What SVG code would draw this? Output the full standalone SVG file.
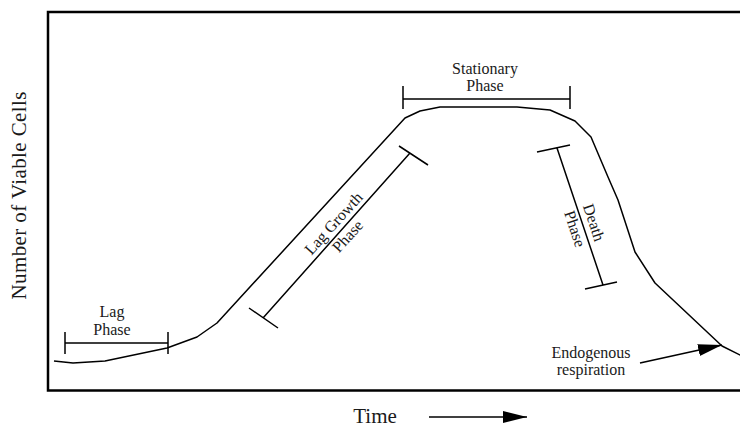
<svg xmlns="http://www.w3.org/2000/svg" width="740" height="428" viewBox="0 0 740 428">
<style>
  .t { font-family: "Liberation Serif", "Times New Roman", serif; font-size: 16px; fill: #1a1a1a; text-anchor: middle; }
  .big { font-size: 21px; }
  .ln { fill: none; stroke: #000; stroke-width: 1.5; stroke-linejoin: round; }
  .frame { fill: none; stroke: #000; stroke-width: 2.5; }
</style>
<defs>
  <marker id="ah" viewBox="0 0 24 12" refX="24" refY="6" markerWidth="24" markerHeight="12" markerUnits="userSpaceOnUse" orient="auto">
    <path d="M0,0 L24,6 L0,12 z" fill="#000"/>
  </marker>
</defs>
<rect width="740" height="428" fill="#fff"/>
<g id="frame">
  <path class="frame" d="M745 12 H48 V390.5 H745"/>
</g>
<g id="y-label">
  <text class="t big" transform="translate(26,195.5) rotate(-90)" textLength="208" lengthAdjust="spacing">Number of Viable Cells</text>
</g>
<g id="growth-curve">
  <polyline class="ln" points="54,361 73,363 105,361 167,348 197,337 217,323 405,118 420,111 440,107 517,107 550,110 575,121 591,137 608,177 618,200 635,252 655,283 722,346 742,356"/>
</g>
<g id="lag-phase">
  <path class="ln" d="M65,332 V354 M168,332 V354 M65,343 H168"/>
  <text class="t" x="112" y="317">Lag</text>
  <text class="t" x="112" y="335">Phase</text>
</g>
<g id="stationary-phase">
  <path class="ln" d="M403,86 V109 M570,86 V109 M403,99 H570"/>
  <text class="t" x="485" y="74">Stationary</text>
  <text class="t" x="485" y="91">Phase</text>
</g>
<g id="lag-growth-phase">
  <path class="ln" d="M399,146 L428,165 M249,308 L278,328 M410,153 L263,318"/>
  <g transform="translate(336.5,235.5) rotate(-47.8)">
    <text class="t" x="7" y="-5">Lag Growth</text>
    <text class="t" x="7" y="14">Phase</text>
  </g>
</g>
<g id="death-phase">
  <path class="ln" d="M537,152 L570,145 M585,289 L617,282 M557,148 L603,285"/>
  <g transform="translate(580,216.5) rotate(71.6)">
    <text class="t" x="10" y="-6">Death</text>
    <text class="t" x="10" y="14">Phase</text>
  </g>
</g>
<g id="endogenous">
  <text class="t" x="591" y="358">Endogenous</text>
  <text class="t" x="591" y="375">respiration</text>
</g>
<g id="time-label">
  <text class="t big" x="375" y="423">Time</text>
</g>
<g id="connectors">
  <line class="ln" x1="640" y1="363" x2="722" y2="345" marker-end="url(#ah)"/>
  <line class="ln" x1="429" y1="417" x2="527" y2="417" marker-end="url(#ah)"/>
</g>
</svg>
